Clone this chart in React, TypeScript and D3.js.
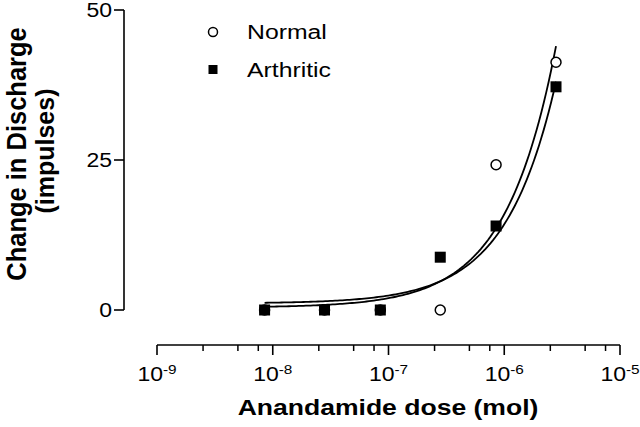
import React from 'react'
import * as d3 from 'd3'

// values
const doses = [8.5e-9, 2.8e-8, 8.5e-8, 2.8e-7, 8.5e-7, 2.8e-6]
const normal = [0, 0, 0, 0, 24.2, 41.3]
const arthritic = [0, 0, 0, 8.8, 14, 37.2]
const yTicks = [0, 25, 50]
const xMajor = [1e-9, 1e-8, 1e-7, 1e-6, 1e-5]
const xExponents = ['-9', '-8', '-7', '-6', '-5']
const minorFactors = [2.5, 5, 7.5]

const FONT = '"Liberation Sans", Arial, sans-serif'
const SX = 1.18 // the figure's text is a bit wider than Arial

// least squares line y = a + b*dose (the curves are linear fits drawn on a log axis)
function fitLine(xs: number[], ys: number[]) {
  const mx = d3.mean(xs) as number
  const my = d3.mean(ys) as number
  const sxy = d3.sum(xs, (d, i) => (d - mx) * (ys[i] - my))
  const sxx = d3.sum(xs, d => (d - mx) * (d - mx))
  const b = sxy / sxx
  return { a: my - b * mx, b }
}

export default function App() {
  const x = d3.scaleLog().domain([1e-9, 1e-5]).range([157, 620])
  const y = d3.scaleLinear().domain([0, 50]).range([310, 10])

  const lo = doses[0], hi = doses[doses.length - 1]
  const samples = d3.range(0, 121).map(i => Math.exp(Math.log(lo) + (Math.log(hi) - Math.log(lo)) * i / 120))
  const line = d3.line<[number, number]>().x(d => x(d[0])).y(d => y(d[1]))
  const curve = (ys: number[]) => {
    const f = fitLine(doses, ys)
    return line(samples.map(d => [d, f.a + f.b * d] as [number, number])) || ''
  }

  const minors: number[] = []
  xMajor.slice(0, -1).forEach(m => minorFactors.forEach(f => minors.push(m * f)))

  const axisY = 345

  return (
    <svg width={640} height={427} style={{ position: 'absolute', left: 0, top: 0, background: '#fff' }}
      fontFamily={FONT}>
      {/* y axis */}
      <line x1={124} x2={124} y1={y(50)} y2={y(0)} stroke="#000" strokeWidth={1.6} />
      {yTicks.map(t => (
        <g key={t}>
          <line x1={114} x2={124} y1={y(t)} y2={y(t)} stroke="#000" strokeWidth={1.6} />
          <text transform={`translate(112,${y(t) + 7}) scale(${SX},1)`} textAnchor="end" fontSize={19.5}>{t}</text>
        </g>
      ))}

      {/* x axis */}
      <line x1={x(1e-9)} x2={x(1e-5)} y1={axisY} y2={axisY} stroke="#000" strokeWidth={1.6} />
      {xMajor.map((t, i) => (
        <g key={t}>
          <line x1={x(t)} x2={x(t)} y1={axisY} y2={axisY + 10} stroke="#000" strokeWidth={1.6} />
          <text transform={`translate(${x(t)},381) scale(${SX},1)`} textAnchor="middle" fontSize={19.5}>
            10<tspan dy={-7} fontSize={13}>{xExponents[i]}</tspan>
          </text>
        </g>
      ))}
      {minors.map(t => (
        <line key={t} x1={x(t)} x2={x(t)} y1={axisY} y2={axisY + 6} stroke="#000" strokeWidth={1.5} />
      ))}

      {/* titles */}
      <text transform={`translate(388,415) scale(${SX},1)`} textAnchor="middle" fontSize={22.5} fontWeight="bold">
        Anandamide dose (mol)
      </text>
      <text transform="translate(25.5,154) scale(1.05,1) rotate(-90)" textAnchor="middle" fontSize={25.5} fontWeight="bold">
        Change in Discharge
      </text>
      <text transform="translate(54,151) scale(1.05,1) rotate(-90)" textAnchor="middle" fontSize={25} fontWeight="bold">
        (impulses)
      </text>

      {/* fitted curves */}
      <path d={curve(normal)} fill="none" stroke="#000" strokeWidth={1.8} />
      <path d={curve(arthritic)} fill="none" stroke="#000" strokeWidth={1.8} />

      {/* points */}
      {doses.map((d, i) => (
        <circle key={'n' + i} cx={x(d)} cy={y(normal[i])} r={5} fill="#fff" stroke="#000" strokeWidth={1.5} />
      ))}
      {doses.map((d, i) => (
        <rect key={'a' + i} x={x(d) - 5.5} y={y(arthritic[i]) - 5.5} width={11} height={11} fill="#000" />
      ))}

      {/* legend */}
      <circle cx={213} cy={32} r={4.5} fill="#fff" stroke="#000" strokeWidth={1.5} />
      <text transform={`translate(247,39) scale(${SX},1)`} fontSize={21}>Normal</text>
      <rect x={208.5} y={65} width={9} height={9} fill="#000" />
      <text transform={`translate(247,77) scale(${SX},1)`} fontSize={21}>Arthritic</text>
    </svg>
  )
}
